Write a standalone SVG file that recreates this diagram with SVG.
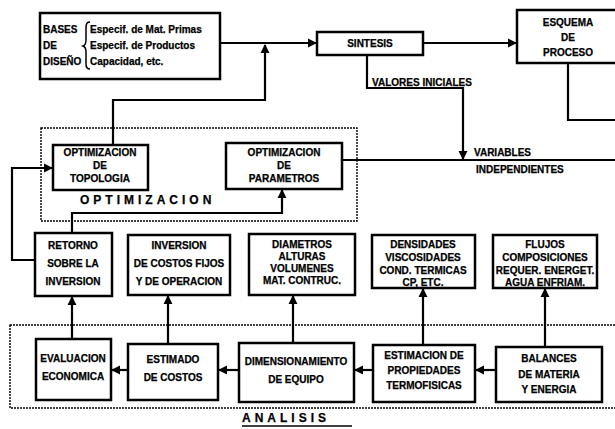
<svg xmlns="http://www.w3.org/2000/svg" width="615" height="429" viewBox="0 0 615 429">
<defs>
<marker id="ah" viewBox="0 0 10 10" refX="9" refY="5" markerWidth="4.2" markerHeight="4.2" orient="auto" markerUnits="strokeWidth">
<path d="M0,0 L10,5 L0,10 z" fill="#000"/>
</marker>
<style>
.box{fill:#fff;stroke:#000;stroke-width:2.5}
.dot{fill:none;stroke:#000;stroke-width:1.4;stroke-dasharray:2,1}
.ln{fill:none;stroke:#000;stroke-width:2.2}
.ar{fill:none;stroke:#000;stroke-width:2.2;marker-end:url(#ah)}
text{font-family:"Liberation Sans",Arial,sans-serif;font-weight:bold;font-size:10px;fill:#000;stroke:#000;stroke-width:0.25}
.c{text-anchor:middle}
.sp{font-size:12px;letter-spacing:4px}
</style>
</defs>
<rect width="615" height="429" fill="#fff"/>
<g id="regions">
<rect class="dot" x="41" y="128" width="316" height="93"/>
<rect class="dot" x="10" y="325" width="608" height="83"/>
<text class="sp" x="80" y="204">OPTIMIZACION</text>
<text class="sp" x="242" y="422">ANALISIS</text>
<line x1="242" y1="426" x2="352" y2="426" stroke="#000" stroke-width="1.5"/>
</g>
<g id="connectors">
<path class="ar" d="M220,43 H316"/>
<path class="ar" d="M423,43 H516"/>
<path class="ln" d="M568,63 V120 H616"/>
<path class="ar" d="M367,55 V88 H463 V159"/>
<path class="ln" d="M342,160 H616"/>
<path class="ar" d="M113,145 V100 H265 V45"/>
<path class="ar" d="M35,260 H12 V168 H52"/>
<path class="ar" d="M72,233 V213 H282 V190"/>
<path class="ar" d="M72,339 V297"/>
<path class="ar" d="M168,344 V296"/>
<path class="ar" d="M293,343 V296"/>
<path class="ar" d="M423,345 V289"/>
<path class="ar" d="M545,347 V289"/>
<path class="ar" d="M496,370 H476"/>
<path class="ar" d="M373,370 H355"/>
<path class="ar" d="M239,370 H219"/>
<path class="ar" d="M128,370 H112"/>
</g>
<g id="bases">
<rect class="box" x="40" y="13" width="180" height="66"/>
<text x="43" y="33">BASES</text>
<text x="43" y="49">DE</text>
<text x="43" y="65">DISEÑO</text>
<path d="M90,22 Q86,22 86,27 V40 Q86,45 83,46 Q86,47 86,52 V64 Q86,69 90,69" fill="none" stroke="#000" stroke-width="1.5"/>
<text x="90" y="33">Especif. de Mat. Primas</text>
<text x="90" y="49">Especif. de Productos</text>
<text x="90" y="65">Capacidad, etc.</text>
</g>
<g id="sintesis">
<rect class="box" x="317" y="32" width="106" height="23"/>
<text class="c" x="370" y="47">SINTESIS</text>
</g>
<text x="372" y="86">VALORES INICIALES</text>
<text x="474" y="156">VARIABLES</text>
<text x="476" y="173">INDEPENDIENTES</text>
<g id="esquema">
<rect class="box" x="517" y="10" width="102" height="53"/>
<text class="c" x="568" y="26">ESQUEMA</text>
<text class="c" x="568" y="41">DE</text>
<text class="c" x="568" y="56">PROCESO</text>
</g>
<g id="topologia">
<rect class="box" x="53" y="145" width="95" height="45"/>
<text class="c" x="100" y="156">OPTIMIZACION</text>
<text class="c" x="100" y="169">DE</text>
<text class="c" x="100" y="182">TOPOLOGIA</text>
</g>
<g id="parametros">
<rect class="box" x="226" y="143" width="116" height="46"/>
<text class="c" x="284" y="156">OPTIMIZACION</text>
<text class="c" x="284" y="169">DE</text>
<text class="c" x="284" y="182">PARAMETROS</text>
</g>
<g id="retorno">
<rect class="box" x="35" y="233" width="77" height="63"/>
<text class="c" x="73" y="249">RETORNO</text>
<text class="c" x="73" y="267">SOBRE LA</text>
<text class="c" x="73" y="285">INVERSION</text>
</g>
<g id="inversion">
<rect class="box" x="128" y="235" width="102" height="60"/>
<text class="c" x="179" y="249">INVERSION</text>
<text class="c" x="179" y="267">DE COSTOS FIJOS</text>
<text class="c" x="179" y="285">Y DE OPERACION</text>
</g>
<g id="diametros">
<rect class="box" x="249" y="234" width="106" height="61"/>
<text class="c" x="302" y="248">DIAMETROS</text>
<text class="c" x="302" y="260">ALTURAS</text>
<text class="c" x="302" y="272">VOLUMENES</text>
<text class="c" x="302" y="284">MAT. CONTRUC.</text>
</g>
<g id="densidades">
<rect class="box" x="372" y="235" width="103" height="53"/>
<text class="c" x="423" y="248">DENSIDADES</text>
<text class="c" x="423" y="261">VISCOSIDADES</text>
<text class="c" x="423" y="274">COND. TERMICAS</text>
<text class="c" x="423" y="286">CP, ETC.</text>
</g>
<g id="flujos">
<rect class="box" x="493" y="235" width="104" height="53"/>
<text class="c" x="545" y="248">FLUJOS</text>
<text class="c" x="545" y="261">COMPOSICIONES</text>
<text class="c" x="545" y="274">REQUER. ENERGET.</text>
<text class="c" x="545" y="286">AGUA ENFRIAM.</text>
</g>
<g id="evaluacion">
<rect class="box" x="36" y="339" width="75" height="61"/>
<text class="c" x="73" y="362">EVALUACION</text>
<text class="c" x="73" y="380">ECONOMICA</text>
</g>
<g id="estimado">
<rect class="box" x="128" y="344" width="90" height="56"/>
<text class="c" x="173" y="363">ESTIMADO</text>
<text class="c" x="173" y="381">DE COSTOS</text>
</g>
<g id="dimensionamiento">
<rect class="box" x="239" y="343" width="115" height="59"/>
<text class="c" x="296" y="365">DIMENSIONAMIENTO</text>
<text class="c" x="296" y="383">DE EQUIPO</text>
</g>
<g id="estimacion">
<rect class="box" x="373" y="345" width="102" height="57"/>
<text class="c" x="424" y="359">ESTIMACION DE</text>
<text class="c" x="424" y="374">PROPIEDADES</text>
<text class="c" x="424" y="389">TERMOFISICAS</text>
</g>
<g id="balances">
<rect class="box" x="496" y="347" width="106" height="55"/>
<text class="c" x="549" y="362">BALANCES</text>
<text class="c" x="549" y="378">DE MATERIA</text>
<text class="c" x="549" y="393">Y ENERGIA</text>
</g>
</svg>
